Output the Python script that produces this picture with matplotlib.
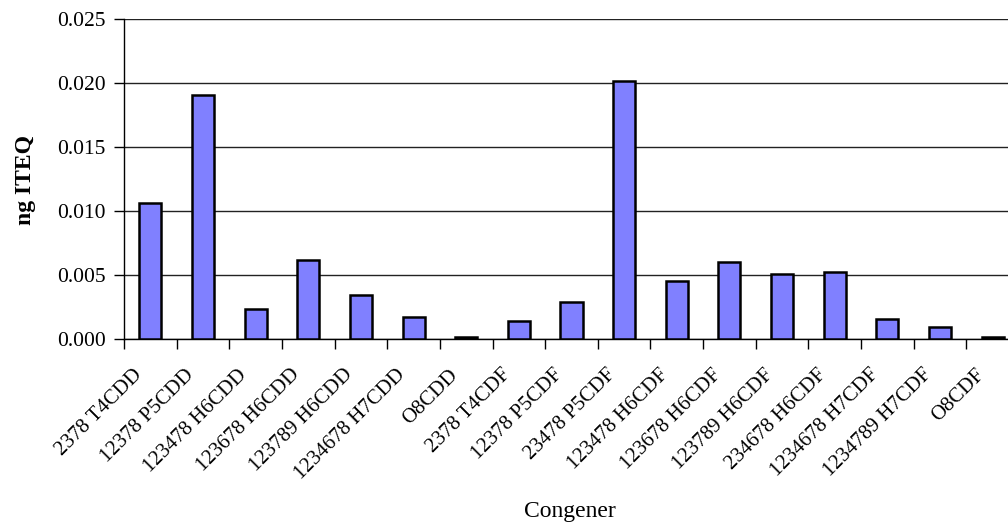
import numpy as np
import matplotlib.pyplot as plt
import matplotlib.transforms as mtransforms
from matplotlib.ticker import FormatStrFormatter

congeners = ["2378 T4CDD", "12378 P5CDD", "123478 H6CDD", "123678 H6CDD",
             "123789 H6CDD", "1234678 H7CDD", "O8CDD", "2378 T4CDF",
             "12378 P5CDF", "23478 P5CDF", "123478 H6CDF", "123678 H6CDF",
             "123789 H6CDF", "234678 H6CDF", "1234678 H7CDF", "1234789 H7CDF",
             "O8CDF"]
iteq = [0.01063, 0.01906, 0.00237, 0.00620, 0.00340, 0.00174, 0.00018,
        0.00143, 0.00290, 0.02012, 0.00453, 0.00600, 0.00510, 0.00522,
        0.00156, 0.00096, 0.00015]

plt.rcParams['font.family'] = ['Liberation Serif', 'DejaVu Serif']

fig = plt.figure(figsize=(10.08, 5.27), dpi=100)
ax = fig.add_axes([124/1008, 1 - 339/527, 895/1008, 320/527])

x = np.arange(len(congeners))
ax.bar(x, iteq, width=0.42, color='#8080FF', edgecolor='black', linewidth=1.8, zorder=3)

ax.set_ylim(0, 0.025)
ax.set_yticks(np.arange(0, 0.0251, 0.005))
ax.yaxis.set_major_formatter(FormatStrFormatter('%.3f'))
ax.yaxis.grid(True, color='#222222', linewidth=1.0, zorder=0)
ax.set_xlim(-0.5, len(congeners) - 0.5)

ax.set_xticks(x)
ax.set_xticklabels(congeners, rotation=45, ha='right', rotation_mode='anchor', fontsize=15)
ax.tick_params(axis='x', which='major', length=0, pad=19)
# nudge the rotated labels to the left, like the original
shift = mtransforms.ScaledTranslation(-18/100, 0, fig.dpi_scale_trans)
for lab in ax.get_xticklabels():
    lab.set_transform(lab.get_transform() + shift)
ax.set_xticks(np.arange(-0.5, len(congeners), 1), minor=True)
ax.tick_params(axis='x', which='minor', length=7, width=1, direction='out')
ax.tick_params(axis='y', length=7, width=1, direction='out', labelsize=15.5, pad=6)

for s in ['top', 'right']:
    ax.spines[s].set_visible(False)
for s in ['left', 'bottom']:
    ax.spines[s].set_color('black')
    ax.spines[s].set_linewidth(1.0)

fig.text(25/1008, 1 - 180/527, 'ng ITEQ', fontsize=17, fontweight='bold',
         rotation=90, ha='center', va='center')
fig.text(570/1008, 1 - 512/527, 'Congener', fontsize=17, ha='center', va='center')

fig.savefig('out.png', dpi=100)
